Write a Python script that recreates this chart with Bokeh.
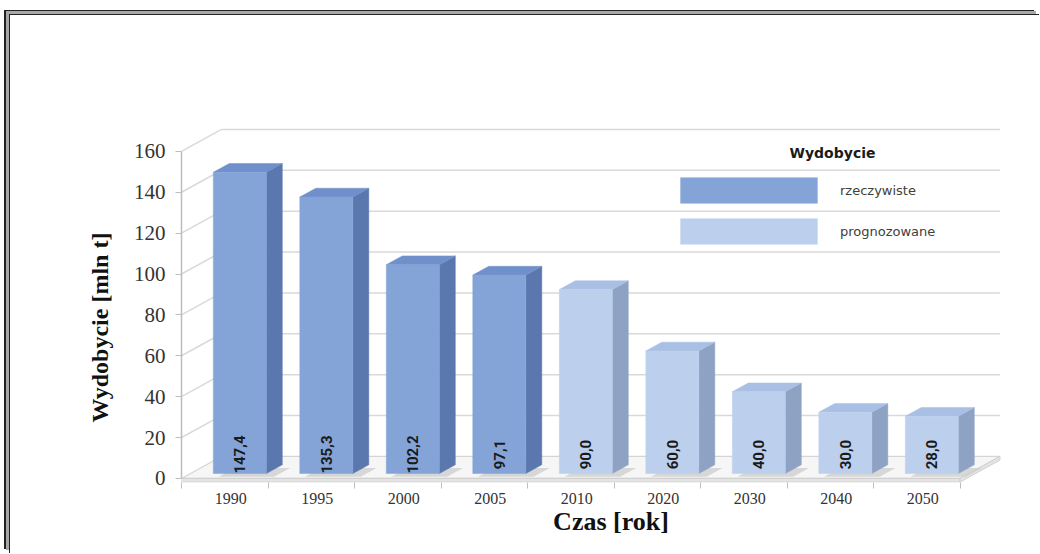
import math
from bokeh.plotting import figure
from bokeh.models import (ColumnDataSource, FixedTicker, Legend, LegendItem, Label,
                          CustomJSTickFormatter, Range1d)
from bokeh.core.properties import value
from bokeh.embed import file_html
from bokeh.resources import INLINE

# ---------------- data ----------------
years = ["1990", "1995", "2000", "2005", "2010", "2020", "2030", "2040", "2050"]
values = [147.4, 135.3, 102.2, 97.1, 90.0, 60.0, 40.0, 30.0, 28.0]
kinds = ["rzeczywiste"] * 4 + ["prognozowane"] * 5
y_ticks = [0, 20, 40, 60, 80, 100, 120, 140, 160]
legend_title = "Wydobycie"
x_title = "Czas [rok]"
y_title = "Wydobycie [mln t]"

# ---------------- 3D geometry (category units / value units) ----------------
DX, DY = 0.462, 10.76        # full depth offset of the box
XL, XR = 0.266, 0.879        # bar left/right inside category band (front plane)
T0, T1 = 0.22, 0.62          # bar front / back depth fraction
N = len(years)

colors = {
    "rzeczywiste": dict(front="#84a4d8", side="#5b78ae", top="#7090cb"),
    "prognozowane": dict(front="#bcd0ee", side="#8ea2c4", top="#a9bfe4"),
}

def faces(i, v):
    x0 = i + XL + T0 * DX
    x1 = i + XR + T0 * DX
    x2 = i + XR + T1 * DX
    x3 = i + XL + T1 * DX
    y0 = T0 * DY
    y1 = T1 * DY
    front = ([x0, x1, x1, x0], [y0, y0, v + y0, v + y0])
    side = ([x1, x2, x2, x1], [y0, y1, v + y1, v + y0])
    top = ([x0, x1, x2, x3], [v + y0, v + y0, v + y1, v + y1])
    shadow = ([x0 + 0.06, x1 + 0.09, x2 + 0.09, x3 + 0.06],
              [y0 - 1.6, y0 - 1.6, y1 - 1.6, y1 - 1.6])
    return front, side, top, shadow

src = {k: dict(fx=[], fy=[], sx=[], sy=[], tx=[], ty=[]) for k in colors}
shadow_xs, shadow_ys = [], []
for i, (v, k) in enumerate(zip(values, kinds)):
    f, s, t, sh = faces(i, v)
    src[k]["fx"].append(f[0]); src[k]["fy"].append(f[1])
    src[k]["sx"].append(s[0]); src[k]["sy"].append(s[1])
    src[k]["tx"].append(t[0]); src[k]["ty"].append(t[1])
    shadow_xs.append(sh[0]); shadow_ys.append(sh[1])

# ---------------- figure ----------------
# page frame: double line on top & left drawn as offset CSS box-shadows of the figure,
# clipped so that only the top and left edges remain
OFF_X, OFF_Y = 10, 15                      # canvas origin on the page
W, H = 1040 - OFF_X, 554 - OFF_Y
PX_X, PX_Y = 86.5, 2.044
MB_L, MB_R, MB_T, MB_B = 181 - OFF_X, 0, 58 - OFF_Y, 72
frame_w = W - MB_L - MB_R
frame_h = H - MB_T - MB_B
p = figure(width=W, height=H, output_backend="svg", toolbar_location=None,
           x_range=Range1d(0, frame_w / PX_X), y_range=Range1d(-2, -2 + frame_h / PX_Y),
           min_border_left=MB_L, min_border_right=MB_R, min_border_top=MB_T, min_border_bottom=MB_B,
           styles={"margin-left": f"{OFF_X}px", "margin-top": f"{OFF_Y}px",
                   "background-color": "white",
                   "clip-path": "inset(-20px 0px 0px -20px)",
                   "box-shadow": "-1px -1px 0 0 #222222, -4px -4px 0 0 #a8a8a8, -6px -5px 0 0 #222222"})
p.outline_line_color = None
p.xgrid.visible = False
p.ygrid.visible = False
p.background_fill_color = "white"
p.border_fill_color = "white"

# floor
p.patch([0, N, N + DX, DX], [0, 0, DY, DY], fill_color="#f6f6f6", line_color="#d4d4d4", line_width=1.2)
p.patch([0, N, N, 0], [0, 0, -1.8, -1.8], fill_color="#e4e4e4", line_color="#d0d0d0", line_width=1)
p.patch([N, N + DX, N + DX, N], [0, DY, DY - 1.8, -1.8], fill_color="#e4e4e4", line_color="#d0d0d0", line_width=1)

# walls gridlines
gv = [v for v in y_ticks if v > 0]
p.segment(x0=[DX] * len(gv), y0=[v + DY for v in gv], x1=[N + DX] * len(gv), y1=[v + DY for v in gv],
          line_color="#d9d9d9", line_width=1.5)
p.segment(x0=[0] * len(gv), y0=gv, x1=[DX] * len(gv), y1=[v + DY for v in gv],
          line_color="#d9d9d9", line_width=1.5)

# shadows
p.patches(shadow_xs, shadow_ys, fill_color="#cfcfcf", fill_alpha=0.8, line_color=None)

# bars
front_r = {}
for k, c in colors.items():
    d = src[k]
    p.patches(d["sx"], d["sy"], fill_color=c["side"], line_color=c["side"], line_width=0.5)
    p.patches(d["tx"], d["ty"], fill_color=c["top"], line_color=c["top"], line_width=0.5)
    front_r[k] = p.patches(d["fx"], d["fy"], fill_color=c["front"], line_color=c["front"], line_width=0.5)

# value labels
lab_src = ColumnDataSource(dict(
    x=[i + (XL + XR) / 2 + T0 * DX for i in range(N)],
    y=[T0 * DY + 9.3] * N,
    t=[f"{v:.1f}".replace(".", ",") for v in values],
))
p.text(x="x", y="y", text="t", source=lab_src, angle=math.pi / 2,
       text_align="center", text_baseline="middle",
       text_font=value("Roboto"), text_font_style="bold",
       text_font_size="15px", text_color="#1a1a1a")

# ---------------- axes ----------------
ya = p.yaxis[0]
ya.ticker = FixedTicker(ticks=y_ticks, minor_ticks=[])
ya.bounds = (0, 160)
ya.axis_line_color = "#bdbdbd"
ya.axis_line_width = 1.5
ya.major_tick_line_color = "#bdbdbd"
ya.major_tick_out = 6
ya.major_tick_in = 0
ya.major_label_standoff = 10
ya.major_label_text_font = "Liberation Serif"
ya.major_label_text_font_size = "21px"
ya.major_label_text_color = "#333333"
ya.axis_label = y_title + "\u00a0" * 19
ya.axis_label_text_font = "Liberation Serif"
ya.axis_label_text_font_style = "bold"
ya.axis_label_text_font_size = "24px"
ya.axis_label_text_color = "#111111"
ya.axis_label_standoff = 18

xa = p.xaxis[0]
centers = [i + 0.57 for i in range(N)]
xa.ticker = FixedTicker(ticks=centers, minor_ticks=list(range(N + 1)))
xa.formatter = CustomJSTickFormatter(args=dict(labels=years),
                                     code="return labels[Math.round(tick - 0.57)];")
xa.axis_line_color = None
xa.major_tick_line_color = None
xa.major_tick_out = 0
xa.major_tick_in = 0
xa.minor_tick_line_color = "#bdbdbd"
xa.minor_tick_out = 6
xa.minor_tick_in = 0
xa.major_label_standoff = 4
xa.major_label_text_font = "Liberation Serif"
xa.major_label_text_font_size = "16px"
xa.major_label_text_color = "#333333"
xa.axis_label = x_title
xa.axis_label_text_font = "Liberation Serif"
xa.axis_label_text_font_style = "bold"
xa.axis_label_text_font_size = "26px"
xa.axis_label_text_color = "#111111"
xa.axis_label_standoff = 0

# ---------------- legend ----------------
legend = Legend(items=[LegendItem(label=k, renderers=[front_r[k]]) for k in colors],
                location=(482, 235), orientation="vertical",
                glyph_width=171, glyph_height=32, spacing=9, label_standoff=6,
                padding=0, margin=0, border_line_color=None, background_fill_alpha=0,
                label_text_font="DejaVu Sans", label_text_font_size="13px",
                label_text_color="#404040")
p.add_layout(legend)
p.add_layout(Label(x=832 - OFF_X, y=152 - OFF_Y, x_units="canvas", y_units="canvas", text=legend_title,
                   text_align="center", text_baseline="middle", text_font="DejaVu Sans",
                   text_font_style="bold", text_font_size="14px", text_color="#1a1a1a"))

open("out.html", "w").write(file_html(p, INLINE))
